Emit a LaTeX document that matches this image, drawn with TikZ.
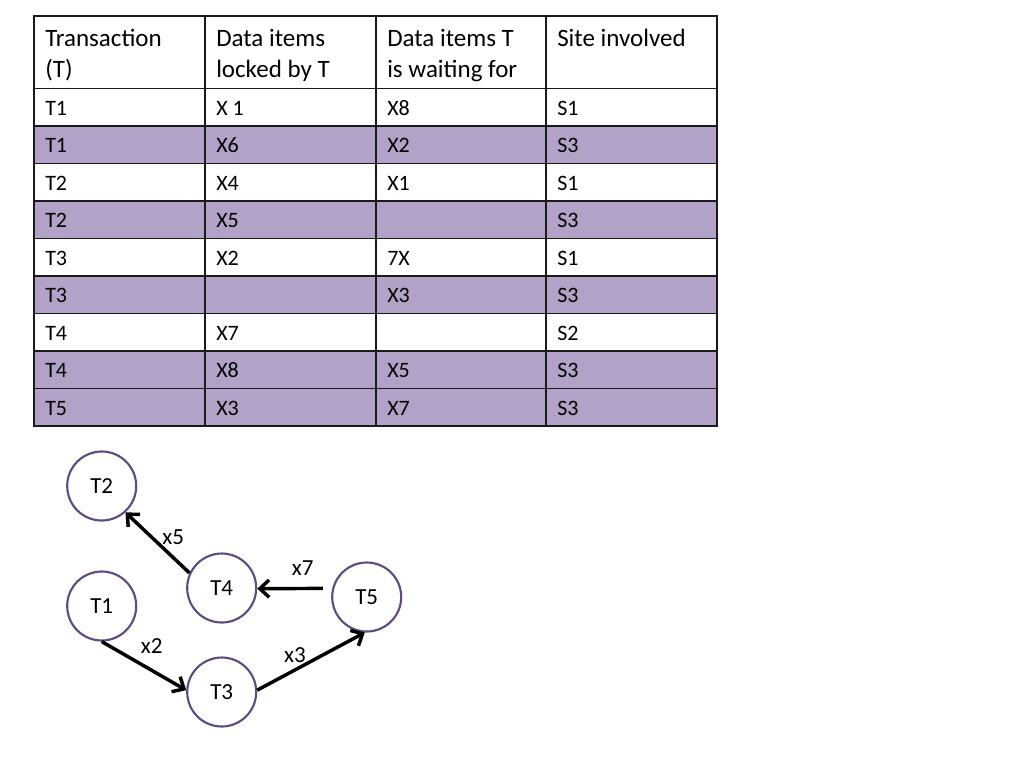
\documentclass[tikz,border=0pt]{standalone}
\usepackage{fontspec}
\setmainfont{Carlito}
\usetikzlibrary{arrows.meta}
\definecolor{rowpurple}{HTML}{B3A2C7}
\definecolor{ringcol}{HTML}{5F4B7E}
\definecolor{rulecol}{HTML}{1A1A1A}
\begin{document}
\begin{tikzpicture}[x=0.75pt,y=-0.75pt,
  tablerule/.style={draw=rulecol,line width=1.1pt},
  head/.style={anchor=base west,inner sep=0pt,font=\fontsize{18.75}{22.5}\selectfont},
  cell/.style={anchor=base west,inner sep=0pt,font=\fontsize{16.5}{19.8}\selectfont},
  tnode/.style={circle,draw=ringcol,line width=1.6pt,minimum size=51.75pt,inner sep=0pt,fill=white,font=\fontsize{17.25}{20.7}\selectfont},
  lbl/.style={inner sep=0pt,font=\fontsize{17.25}{20.7}\selectfont},
  edge/.style={draw=black,line width=2.6pt,-{Straight Barb[length=7pt,width=13pt]}}]
\useasboundingbox (0,0) rectangle (1024,768);
% row fills
\foreach \t in {126,201,276,351,388.5}
  \fill[rowpurple] (34,\t) rectangle (717,\t+37.5);
% grid
\foreach \y in {88.5,126,163.5,201,238.5,276,313.5,351,388.5}
  \draw[tablerule] (34,\y) -- (717,\y);
\foreach \x in {205,376,546}
  \draw[tablerule] (\x,16) -- (\x,426);
\draw[tablerule] (34,16) rectangle (717,426);
% header
\node[head] (h1a) at (45,46.7) {Transaction};
\node[head] (h1b) at (45,77.3) {(T)};
\node[head] (h2a) at (216,46.7) {Data items};
\node[head] (h2b) at (216,77.3) {locked by T};
\node[head] (h3a) at (387,46.7) {Data items T};
\node[head] (h3b) at (387,77.3) {is waiting for};
\node[head] (h4a) at (557,46.7) {Site involved};
% body
\foreach \y/\a/\b/\c/\d [count=\i] in {
  115/T1/X 1/X8/S1,
  152.5/T1/X6/X2/S3,
  190/T2/X4/X1/S1,
  227.5/T2/X5//S3,
  265/T3/X2/7X/S1,
  302.5/T3//X3/S3,
  340/T4/X7//S2,
  377.5/T4/X8/X5/S3,
  415/T5/X3/X7/S3}{
  \node[cell] (c\i a) at (45,\y) {\a};
  \node[cell] (c\i b) at (216,\y) {\b};
  \node[cell] (c\i c) at (387,\y) {\c};
  \node[cell] (c\i d) at (557,\y) {\d};
}
% graph
\node[tnode] (T2) at (101.7,486) {T2};
\node[tnode] (T4) at (221.7,588) {T4};
\node[tnode] (T1) at (101.7,606) {T1};
\node[tnode] (T5) at (366.7,597) {T5};
\node[tnode] (T3) at (221.7,692) {T3};
\draw[edge] (T4.155) -- (T2.-48);
\draw[edge,shorten <=7pt] (T5.166) -- (T4.-1);
\draw[edge] (T1.-90) -- (T3.177);
\draw[edge] (T3.3) -- (T5.-93);
\node[lbl] (l5) at (173.3,536.7) {x5};
\node[lbl] (l7) at (302.7,568.3) {x7};
\node[lbl] (l2) at (151.7,646) {x2};
\node[lbl] (l3) at (295,655.5) {x3};
\end{tikzpicture}
\end{document}
